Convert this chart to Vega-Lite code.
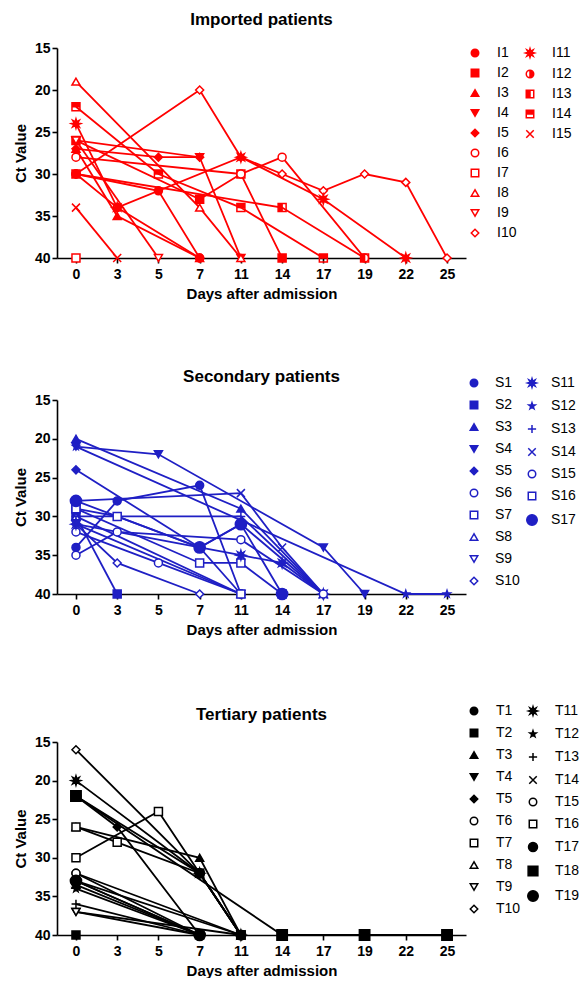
{
  "$schema": "https://vega.github.io/schema/vega-lite/v6.json",
  "padding": {"left": 13, "top": 11, "right": 0, "bottom": 0},
  "background": "white",
  "spacing": 67,
  "datasets": {
    "imported": [
      {"patient":"I1","day":0,"ct":30},{"patient":"I1","day":5,"ct":32},{"patient":"I1","day":7,"ct":40},
      {"patient":"I2","day":0,"ct":26},{"patient":"I2","day":7,"ct":33},{"patient":"I2","day":11,"ct":30},{"patient":"I2","day":14,"ct":40},
      {"patient":"I3","day":0,"ct":27},{"patient":"I3","day":3,"ct":35},{"patient":"I3","day":7,"ct":40},
      {"patient":"I4","day":0,"ct":26},{"patient":"I4","day":7,"ct":28},{"patient":"I4","day":11,"ct":40},
      {"patient":"I5","day":0,"ct":27},{"patient":"I5","day":5,"ct":28},{"patient":"I5","day":7,"ct":28},
      {"patient":"I6","day":0,"ct":28},{"patient":"I6","day":11,"ct":30},{"patient":"I6","day":14,"ct":28},{"patient":"I6","day":19,"ct":40},
      {"patient":"I7","day":0,"ct":40},
      {"patient":"I8","day":0,"ct":19},{"patient":"I8","day":7,"ct":34},{"patient":"I8","day":11,"ct":40},
      {"patient":"I9","day":0,"ct":26},{"patient":"I9","day":5,"ct":40},
      {"patient":"I10","day":0,"ct":30},{"patient":"I10","day":7,"ct":20},{"patient":"I10","day":11,"ct":28},{"patient":"I10","day":14,"ct":30},{"patient":"I10","day":17,"ct":32},{"patient":"I10","day":19,"ct":30},{"patient":"I10","day":22,"ct":31},{"patient":"I10","day":25,"ct":40},
      {"patient":"I11","day":0,"ct":24},{"patient":"I11","day":3,"ct":34},{"patient":"I11","day":11,"ct":28},{"patient":"I11","day":17,"ct":33},{"patient":"I11","day":22,"ct":40},
      {"patient":"I12","day":0,"ct":30},{"patient":"I12","day":3,"ct":34},{"patient":"I12","day":7,"ct":40},
      {"patient":"I13","day":0,"ct":30},{"patient":"I13","day":14,"ct":34},{"patient":"I13","day":19,"ct":40},
      {"patient":"I14","day":0,"ct":22},{"patient":"I14","day":5,"ct":30},{"patient":"I14","day":11,"ct":34},{"patient":"I14","day":17,"ct":40},
      {"patient":"I15","day":0,"ct":34},{"patient":"I15","day":3,"ct":40}
    ],
    "secondary": [
      {"patient":"S1","day":0,"ct":34},{"patient":"S1","day":3,"ct":28},{"patient":"S1","day":7,"ct":26},{"patient":"S1","day":11,"ct":40},
      {"patient":"S2","day":0,"ct":30},{"patient":"S2","day":3,"ct":40},
      {"patient":"S3","day":0,"ct":20},{"patient":"S3","day":11,"ct":29},{"patient":"S3","day":17,"ct":40},
      {"patient":"S4","day":0,"ct":21},{"patient":"S4","day":5,"ct":22},{"patient":"S4","day":17,"ct":34},{"patient":"S4","day":19,"ct":40},
      {"patient":"S5","day":0,"ct":24},{"patient":"S5","day":7,"ct":34},{"patient":"S5","day":11,"ct":31},{"patient":"S5","day":17,"ct":40},
      {"patient":"S6","day":0,"ct":32},{"patient":"S6","day":5,"ct":36},{"patient":"S6","day":11,"ct":40},
      {"patient":"S7","day":0,"ct":29},{"patient":"S7","day":7,"ct":36},{"patient":"S7","day":11,"ct":36},{"patient":"S7","day":14,"ct":40},
      {"patient":"S8","day":0,"ct":30},{"patient":"S8","day":11,"ct":40},
      {"patient":"S9","day":0,"ct":31},{"patient":"S9","day":11,"ct":40},
      {"patient":"S10","day":0,"ct":31},{"patient":"S10","day":3,"ct":36},{"patient":"S10","day":7,"ct":40},
      {"patient":"S11","day":0,"ct":31},{"patient":"S11","day":11,"ct":35},{"patient":"S11","day":14,"ct":36},{"patient":"S11","day":17,"ct":40},
      {"patient":"S12","day":0,"ct":21},{"patient":"S12","day":22,"ct":40},{"patient":"S12","day":25,"ct":40},
      {"patient":"S13","day":0,"ct":30},{"patient":"S13","day":11,"ct":30},{"patient":"S13","day":17,"ct":40},
      {"patient":"S14","day":0,"ct":28},{"patient":"S14","day":11,"ct":27},{"patient":"S14","day":14,"ct":34},{"patient":"S14","day":17,"ct":40},
      {"patient":"S15","day":0,"ct":35},{"patient":"S15","day":3,"ct":32},{"patient":"S15","day":11,"ct":33},{"patient":"S15","day":17,"ct":40},
      {"patient":"S16","day":0,"ct":29},{"patient":"S16","day":3,"ct":30},{"patient":"S16","day":7,"ct":34},{"patient":"S16","day":11,"ct":40},
      {"patient":"S17","day":0,"ct":28},{"patient":"S17","day":7,"ct":34},{"patient":"S17","day":11,"ct":31},{"patient":"S17","day":14,"ct":40}
    ],
    "tertiary": [
      {"patient":"T1","day":0,"ct":33},{"patient":"T1","day":7,"ct":40},
      {"patient":"T2","day":0,"ct":40},
      {"patient":"T3","day":0,"ct":26},{"patient":"T3","day":7,"ct":30},{"patient":"T3","day":11,"ct":40},
      {"patient":"T4","day":0,"ct":37},{"patient":"T4","day":7,"ct":40},
      {"patient":"T5","day":0,"ct":22},{"patient":"T5","day":3,"ct":26},{"patient":"T5","day":7,"ct":40},
      {"patient":"T6","day":0,"ct":32},{"patient":"T6","day":7,"ct":40},
      {"patient":"T7","day":0,"ct":26},{"patient":"T7","day":3,"ct":28},{"patient":"T7","day":7,"ct":32},{"patient":"T7","day":11,"ct":40},
      {"patient":"T8","day":0,"ct":33.5},{"patient":"T8","day":7,"ct":40},
      {"patient":"T9","day":0,"ct":37},{"patient":"T9","day":11,"ct":40},
      {"patient":"T10","day":0,"ct":16},{"patient":"T10","day":7,"ct":32},{"patient":"T10","day":11,"ct":40},
      {"patient":"T11","day":0,"ct":20},{"patient":"T11","day":7,"ct":32},{"patient":"T11","day":11,"ct":40},
      {"patient":"T12","day":0,"ct":34},{"patient":"T12","day":7,"ct":40},
      {"patient":"T13","day":0,"ct":36},{"patient":"T13","day":7,"ct":40},
      {"patient":"T14","day":0,"ct":33},{"patient":"T14","day":11,"ct":40},
      {"patient":"T15","day":0,"ct":32},{"patient":"T15","day":11,"ct":40},
      {"patient":"T16","day":0,"ct":30},{"patient":"T16","day":5,"ct":24},{"patient":"T16","day":11,"ct":40},
      {"patient":"T17","day":0,"ct":22},{"patient":"T17","day":7,"ct":32},{"patient":"T17","day":11,"ct":40},
      {"patient":"T18","day":0,"ct":22},{"patient":"T18","day":14,"ct":40},{"patient":"T18","day":19,"ct":40},{"patient":"T18","day":25,"ct":40},
      {"patient":"T19","day":0,"ct":33},{"patient":"T19","day":7,"ct":40}
    ]
  },
  "vconcat": [
    {
      "title": {"text": "Imported patients", "frame": "group", "anchor": "middle", "offset": 12},
      "width": 409, "height": 210,
      "data": {"name": "imported"},
      "encoding": {
        "x": {"field": "day", "type": "ordinal", "scale": {"domain": [0,3,5,7,11,14,17,19,22,25], "padding": 0.46}, "axis": {"title": "Days after admission"}},
        "y": {"field": "ct", "type": "quantitative", "scale": {"domain": [15,40], "reverse": true, "nice": false, "zero": false}, "axis": {"title": "Ct Value", "values": [15,20,25,30,35,40]}}
      },
      "layer": [
        {"mark": {"type": "line", "color": "#ff0000", "strokeWidth": 1.8}, "encoding": {"detail": {"field": "patient"}}},
        {
          "transform": [{"filter": {"field": "patient", "oneOf": ["I1","I2","I3","I4","I5","I6","I7","I8","I9","I10"]}}],
          "mark": {"type": "point", "stroke": "#ff0000", "strokeWidth": 1.5, "opacity": 1, "size": 64},
          "encoding": {
            "shape": {"field": "patient", "type": "nominal",
              "scale": {"domain": ["I1","I2","I3","I4","I5","I6","I7","I8","I9","I10"], "range": ["circle","square","triangle-up","triangle-down","diamond","circle","square","triangle-up","triangle-down","diamond"]},
              "legend": {"title": null, "orient": "none", "legendX": 411, "legendY": -2, "labelOffset": 15, "rowPadding": 6, "encode": {"symbols": {"update": {"stroke": {"value": "#ff0000"}, "strokeWidth": {"value": 1.5}}}}}},
            "fill": {"field": "patient", "type": "nominal",
              "scale": {"domain": ["I1","I2","I3","I4","I5","I6","I7","I8","I9","I10"], "range": ["#ff0000","#ff0000","#ff0000","#ff0000","#ff0000","#ffffff","#ffffff","#ffffff","#ffffff","#ffffff"]},
              "legend": {"title": null, "orient": "none", "legendX": 411, "legendY": -2, "labelOffset": 15, "rowPadding": 6, "encode": {"symbols": {"update": {"stroke": {"value": "#ff0000"}, "strokeWidth": {"value": 1.5}}}}}}
          }
        },
        {
          "transform": [{"filter": {"field": "patient", "oneOf": ["I11","I12","I13","I14","I15"]}}],
          "mark": {"type": "point", "stroke": "#ff0000", "strokeWidth": 1.5, "opacity": 1, "size": 64},
          "encoding": {
            "shape": {"field": "patient", "type": "nominal",
              "scale": {"domain": ["I11","I12","I13","I14","I15"], "range": [
                "M0,-1.2L0.21,-0.508L0.849,-0.849L0.508,-0.21L1.2,0L0.508,0.21L0.849,0.849L0.21,0.508L0,1.2L-0.21,0.508L-0.849,0.849L-0.508,0.21L-1.2,0L-0.508,-0.21L-0.849,-0.849L-0.21,-0.508Z",
                "M0,-1A1,1,0,0,1,0,1A1,1,0,0,1,0,-1ZM0,-1A1,1,0,0,0,0,1Z",
                "M-1,-1H1V1H-1ZM0,-1V1H1V-1Z",
                "M-1,-1H1V1H-1ZM-1,0V1H1V0Z",
                "M-1,-1L1,1M1,-1L-1,1"]},
              "legend": {"title": null, "orient": "none", "legendX": 466, "legendY": -2, "labelOffset": 15, "rowPadding": 6, "encode": {"symbols": {"update": {"stroke": {"value": "#ff0000"}, "strokeWidth": {"value": 1.5}}}}}},
            "fill": {"field": "patient", "type": "nominal",
              "scale": {"domain": ["I11","I12","I13","I14","I15"], "range": ["#ff0000","#ff0000","#ff0000","#ff0000","#ffffff"]},
              "legend": {"title": null, "orient": "none", "legendX": 466, "legendY": -2, "labelOffset": 15, "rowPadding": 6, "encode": {"symbols": {"update": {"stroke": {"value": "#ff0000"}, "strokeWidth": {"value": 1.5}}}}}}
          }
        }
      ],
      "resolve": {"scale": {"shape": "independent", "fill": "independent"}}
    },
    {
      "title": {"text": "Secondary patients", "frame": "group", "anchor": "middle", "offset": -10},
      "width": 409, "height": 194,
      "data": {"name": "secondary"},
      "encoding": {
        "x": {"field": "day", "type": "ordinal", "scale": {"domain": [0,3,5,7,11,14,17,19,22,25], "padding": 0.46}, "axis": {"title": "Days after admission"}},
        "y": {"field": "ct", "type": "quantitative", "scale": {"domain": [15,40], "reverse": true, "nice": false, "zero": false}, "axis": {"title": "Ct Value", "values": [15,20,25,30,35,40]}}
      },
      "layer": [
        {"mark": {"type": "line", "color": "#1f1fc4", "strokeWidth": 1.8}, "encoding": {"detail": {"field": "patient"}}},
        {
          "transform": [{"filter": {"field": "patient", "oneOf": ["S1","S2","S3","S4","S5","S6","S7","S8","S9","S10"]}}],
          "mark": {"type": "point", "stroke": "#1f1fc4", "strokeWidth": 1.5, "opacity": 1, "size": 64},
          "encoding": {
            "shape": {"field": "patient", "type": "nominal",
              "scale": {"domain": ["S1","S2","S3","S4","S5","S6","S7","S8","S9","S10"], "range": ["circle","square","triangle-up","triangle-down","diamond","circle","square","triangle-up","triangle-down","diamond"]},
              "legend": {"title": null, "orient": "none", "legendX": 410, "legendY": -24, "labelOffset": 14, "rowPadding": 8, "encode": {"symbols": {"update": {"stroke": {"value": "#1f1fc4"}, "strokeWidth": {"value": 1.5}}}}}},
            "fill": {"field": "patient", "type": "nominal",
              "scale": {"domain": ["S1","S2","S3","S4","S5","S6","S7","S8","S9","S10"], "range": ["#1f1fc4","#1f1fc4","#1f1fc4","#1f1fc4","#1f1fc4","#ffffff","#ffffff","#ffffff","#ffffff","#ffffff"]},
              "legend": {"title": null, "orient": "none", "legendX": 410, "legendY": -24, "labelOffset": 14, "rowPadding": 8, "encode": {"symbols": {"update": {"stroke": {"value": "#1f1fc4"}, "strokeWidth": {"value": 1.5}}}}}}
          }
        },
        {
          "transform": [{"filter": {"field": "patient", "oneOf": ["S11","S12","S13","S14","S15","S16","S17"]}}],
          "mark": {"type": "point", "stroke": "#1f1fc4", "strokeWidth": 1.5, "opacity": 1, "size": 64},
          "encoding": {
            "shape": {"field": "patient", "type": "nominal",
              "scale": {"domain": ["S11","S12","S13","S14","S15","S16","S17"], "range": [
                "M0,-1.2L0.21,-0.508L0.849,-0.849L0.508,-0.21L1.2,0L0.508,0.21L0.849,0.849L0.21,0.508L0,1.2L-0.21,0.508L-0.849,0.849L-0.508,0.21L-1.2,0L-0.508,-0.21L-0.849,-0.849L-0.21,-0.508Z",
                "M0,-0.9L0.21,-0.29L0.86,-0.28L0.34,0.11L0.53,0.73L0,0.36L-0.53,0.73L-0.34,0.11L-0.86,-0.28L-0.21,-0.29Z",
                "M-1.1,0H1.1M0,-1.1V1.1",
                "M-1,-1L1,1M1,-1L-1,1",
                "circle",
                "square",
                "M-1.4,0A1.4,1.4,0,1,0,1.4,0A1.4,1.4,0,1,0,-1.4,0Z"]},
              "legend": {"title": null, "orient": "none", "legendX": 468, "legendY": -24, "labelOffset": 12, "rowPadding": 8, "encode": {"symbols": {"update": {"stroke": {"value": "#1f1fc4"}, "strokeWidth": {"value": 1.5}}}}}},
            "fill": {"field": "patient", "type": "nominal",
              "scale": {"domain": ["S11","S12","S13","S14","S15","S16","S17"], "range": ["#1f1fc4","#1f1fc4","#ffffff","#ffffff","#ffffff","#ffffff","#1f1fc4"]},
              "legend": {"title": null, "orient": "none", "legendX": 468, "legendY": -24, "labelOffset": 12, "rowPadding": 8, "encode": {"symbols": {"update": {"stroke": {"value": "#1f1fc4"}, "strokeWidth": {"value": 1.5}}}}}}
          }
        }
      ],
      "resolve": {"scale": {"shape": "independent", "fill": "independent"}}
    },
    {
      "title": {"text": "Tertiary patients", "frame": "group", "anchor": "middle", "offset": -20},
      "width": 409, "height": 193,
      "data": {"name": "tertiary"},
      "encoding": {
        "x": {"field": "day", "type": "ordinal", "scale": {"domain": [0,3,5,7,11,14,17,19,22,25], "padding": 0.46}, "axis": {"title": "Days after admission"}},
        "y": {"field": "ct", "type": "quantitative", "scale": {"domain": [15,40], "reverse": true, "nice": false, "zero": false}, "axis": {"title": "Ct Value", "values": [15,20,25,30,35,40]}}
      },
      "layer": [
        {"mark": {"type": "line", "color": "#000000", "strokeWidth": 1.8}, "encoding": {"detail": {"field": "patient"}}},
        {
          "transform": [{"filter": {"field": "patient", "oneOf": ["T1","T2","T3","T4","T5","T6","T7","T8","T9","T10"]}}],
          "mark": {"type": "point", "stroke": "#000000", "strokeWidth": 1.5, "opacity": 1, "size": 64},
          "encoding": {
            "shape": {"field": "patient", "type": "nominal",
              "scale": {"domain": ["T1","T2","T3","T4","T5","T6","T7","T8","T9","T10"], "range": ["circle","square","triangle-up","triangle-down","diamond","circle","square","triangle-up","triangle-down","diamond"]},
              "legend": {"title": null, "orient": "none", "legendX": 410, "legendY": -38, "labelOffset": 15, "rowPadding": 8, "encode": {"symbols": {"update": {"stroke": {"value": "#000000"}, "strokeWidth": {"value": 1.5}}}}}},
            "fill": {"field": "patient", "type": "nominal",
              "scale": {"domain": ["T1","T2","T3","T4","T5","T6","T7","T8","T9","T10"], "range": ["#000000","#000000","#000000","#000000","#000000","#ffffff","#ffffff","#ffffff","#ffffff","#ffffff"]},
              "legend": {"title": null, "orient": "none", "legendX": 410, "legendY": -38, "labelOffset": 15, "rowPadding": 8, "encode": {"symbols": {"update": {"stroke": {"value": "#000000"}, "strokeWidth": {"value": 1.5}}}}}}
          }
        },
        {
          "transform": [{"filter": {"field": "patient", "oneOf": ["T11","T12","T13","T14","T15","T16","T17","T18","T19"]}}],
          "mark": {"type": "point", "stroke": "#000000", "strokeWidth": 1.5, "opacity": 1, "size": 64},
          "encoding": {
            "shape": {"field": "patient", "type": "nominal",
              "scale": {"domain": ["T11","T12","T13","T14","T15","T16","T17","T18","T19"], "range": [
                "M0,-1.2L0.21,-0.508L0.849,-0.849L0.508,-0.21L1.2,0L0.508,0.21L0.849,0.849L0.21,0.508L0,1.2L-0.21,0.508L-0.849,0.849L-0.508,0.21L-1.2,0L-0.508,-0.21L-0.849,-0.849L-0.21,-0.508Z",
                "M0,-0.9L0.21,-0.29L0.86,-0.28L0.34,0.11L0.53,0.73L0,0.36L-0.53,0.73L-0.34,0.11L-0.86,-0.28L-0.21,-0.29Z",
                "M-1.1,0H1.1M0,-1.1V1.1",
                "M-1,-1L1,1M1,-1L-1,1",
                "circle",
                "square",
                "M-1.2,0A1.2,1.2,0,1,0,1.2,0A1.2,1.2,0,1,0,-1.2,0Z",
                "M-1.3,-1.3H1.3V1.3H-1.3Z",
                "M-1.4,0A1.4,1.4,0,1,0,1.4,0A1.4,1.4,0,1,0,-1.4,0Z"]},
              "legend": {"title": null, "orient": "none", "legendX": 469, "legendY": -38, "labelOffset": 15, "rowPadding": 8, "encode": {"symbols": {"update": {"stroke": {"value": "#000000"}, "strokeWidth": {"value": 1.5}}}}}},
            "fill": {"field": "patient", "type": "nominal",
              "scale": {"domain": ["T11","T12","T13","T14","T15","T16","T17","T18","T19"], "range": ["#000000","#000000","#ffffff","#ffffff","#ffffff","#ffffff","#000000","#000000","#000000"]},
              "legend": {"title": null, "orient": "none", "legendX": 469, "legendY": -38, "labelOffset": 15, "rowPadding": 8, "encode": {"symbols": {"update": {"stroke": {"value": "#000000"}, "strokeWidth": {"value": 1.5}}}}}}
          }
        }
      ],
      "resolve": {"scale": {"shape": "independent", "fill": "independent"}}
    }
  ],
  "resolve": {"scale": {"x": "independent", "y": "independent", "shape": "independent", "fill": "independent"}},
  "config": {
    "view": {"stroke": null},
    "font": "Liberation Sans",
    "title": {"font": "Liberation Sans", "fontSize": 17, "fontWeight": "bold", "color": "#000000"},
    "axis": {"domainColor": "#000000", "domainWidth": 1.6, "tickColor": "#000000", "tickWidth": 1.6, "tickSize": 5, "grid": false,
      "labelFont": "Liberation Sans", "labelFontSize": 14, "labelFontWeight": "bold", "labelColor": "#000000",
      "titleFont": "Liberation Sans", "titleFontSize": 15, "titleFontWeight": "bold", "titleColor": "#000000"},
    "axisX": {"labelAngle": 0, "labelPadding": 4, "titlePadding": 5},
    "axisY": {"labelPadding": 2, "titlePadding": 6},
    "legend": {"labelFont": "Liberation Sans", "labelFontSize": 14, "labelColor": "#000000", "symbolSize": 56, "symbolStrokeWidth": 1.5, "padding": 0}
  }
}
